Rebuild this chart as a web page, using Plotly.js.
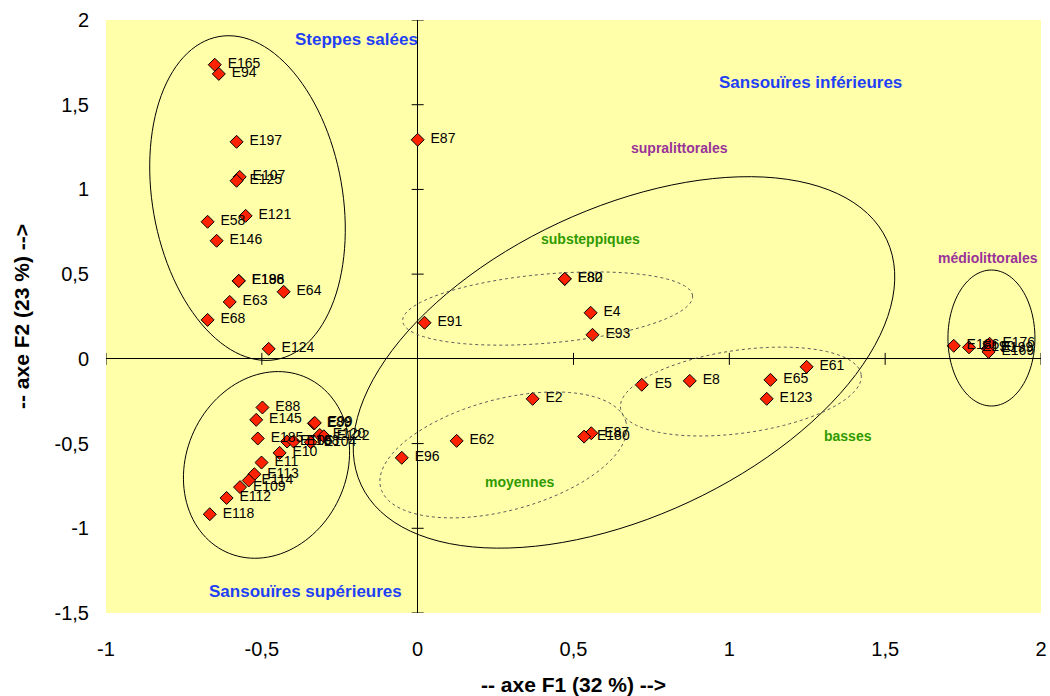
<!DOCTYPE html>
<html>
<head>
<meta charset="utf-8">
<script src="https://cdn.plot.ly/plotly-3.0.1.min.js"></script>
<style>html,body{margin:0;padding:0;background:#fff;}#chart{width:1050px;height:696px;}</style>
</head>
<body>
<div id="chart"></div>
<script>
// ---- data ----
const labels = ["E165","E94","E197","E107","E125","E121","E58","E146","E188","E196","E64","E63","E68","E124",
  "E87",
  "E88","E145","E185","E105","E108","E104","E10","E11","E113","E114","E109","E112","E118","E89","E99","E120","E122",
  "E91","E80","E82","E4","E93","E2","E5","E8","E65","E61","E123","E62","E96","E87","E180",
  "E186","E190","E199","E176","E169"];
const xVals = [-0.651,-0.638,-0.581,-0.571,-0.581,-0.552,-0.674,-0.645,-0.574,-0.574,-0.430,-0.603,-0.674,-0.478,
  0.000,
  -0.498,-0.518,-0.513,-0.419,-0.398,-0.343,-0.443,-0.501,-0.524,-0.542,-0.570,-0.613,-0.667,-0.333,-0.330,-0.314,-0.301,
  0.022,0.472,0.472,0.555,0.561,0.369,0.719,0.873,1.132,1.248,1.120,0.125,-0.051,0.557,0.534,
  1.720,1.769,1.829,1.835,1.832];
const yVals = [1.736,1.682,1.281,1.074,1.051,0.844,0.809,0.697,0.460,0.460,0.396,0.336,0.230,0.059,
  1.293,
  -0.287,-0.360,-0.470,-0.488,-0.488,-0.492,-0.555,-0.612,-0.681,-0.718,-0.757,-0.821,-0.917,-0.381,-0.378,-0.449,-0.457,
  0.213,0.472,0.472,0.272,0.142,-0.236,-0.153,-0.130,-0.124,-0.047,-0.236,-0.484,-0.584,-0.439,-0.459,
  0.077,0.068,0.059,0.089,0.041];

const xTickVals = [-1,-0.5,0,0.5,1,1.5,2];
const xTickText = ["-1","-0,5","0","0,5","1","1,5","2"];
const yTickVals = [-1.5,-1,-0.5,0,0.5,1,1.5,2];
const yTickText = ["-1,5","-1","-0,5","0","0,5","1","1,5","2"];

// group ellipses: center (data), semi-axes (px), angle (deg)
const ellCx =   [-0.546,-0.485, 0.662, 0.417, 0.275, 1.037, 1.841];
const ellCy =   [ 0.949,-0.626,-0.021, 0.297,-0.567,-0.193, 0.123];
const ellA =    [ 164,   96,    290,   145.5, 127,   121.5,  43.5];
const ellB =    [ 95,    80,    154,   34.5,  55.6,  41.5,   68];
const ellAng =  [ 100,   65,    25,    5,     15,    8,      0];
const ellDotted=[ false, false, false, true,  true,  true,   false];

const zoneNames = ["Steppes salées","Sansouïres inférieures","Sansouïres supérieures",
  "supralittorales","médiolittorales","substeppiques","moyennes","basses"];
const zoneX = [-0.195,1.259,-0.361,0.839,1.830,0.556,0.328,1.381];
const zoneY = [1.882,1.634,-1.376,1.244,0.595,0.707,-0.727,-0.455];
const zoneKind = ["main","main","main","sub","sub","fine","fine","fine"];

// ---- layout geometry ----
const W = 1050, H = 696, mL = 106, mR = 9, mT = 20, mB = 83;
const xRange = [-1, 2], yRange = [-1.5, 2];
const kx = (W - mL - mR) / (xRange[1] - xRange[0]);
const ky = (H - mT - mB) / (yRange[1] - yRange[0]);

function ellipsePath(cx, cy, a, b, angDeg) {
  const th = angDeg * Math.PI / 180;
  let p = "";
  const N = 120;
  for (let i = 0; i <= N; i++) {
    const t = 2 * Math.PI * i / N;
    const dx = a * Math.cos(t) * Math.cos(th) - b * Math.sin(t) * Math.sin(th);
    const dy = a * Math.cos(t) * Math.sin(th) + b * Math.sin(t) * Math.cos(th);
    const x = cx + dx / kx, y = cy + dy / ky;
    p += (i === 0 ? "M" : "L") + x.toFixed(5) + "," + y.toFixed(5);
  }
  return p + "Z";
}

const shapes = [];
for (let i = 0; i < ellCx.length; i++) {
  shapes.push({type: "path", xref: "x", yref: "y", path: ellipsePath(ellCx[i], ellCy[i], ellA[i], ellB[i], ellAng[i]),
    line: ellDotted[i] ? {color: "#5a5a5a", width: 1, dash: "dot"} : {color: "#000", width: 1}, layer: "above"});
}
// tick marks crossing the zero axes
const tl = 6;
xTickVals.forEach(v => { if (v !== 0) shapes.push({type: "line", xref: "x", yref: "y", x0: v, x1: v, y0: -tl/ky, y1: tl/ky, line: {color: "#000", width: 1}}); });
yTickVals.forEach(v => { if (v !== 0) shapes.push({type: "line", xref: "x", yref: "y", y0: v, y1: v, x0: -tl/kx, x1: tl/kx, line: {color: "#000", width: 1}}); });

const zoneStyle = {
  main: {size: 17, color: "#1f3ff5"},
  sub: {size: 14, color: "#993399"},
  fine: {size: 14, color: "#2f9a00"}
};
const annotations = zoneNames.map((t, i) => ({
  x: zoneX[i], y: zoneY[i], xref: "x", yref: "y", text: "<b>" + t + "</b>", showarrow: false,
  font: {family: "Liberation Sans, Arial, sans-serif", size: zoneStyle[zoneKind[i]].size, color: zoneStyle[zoneKind[i]].color}
}));

const markerTrace = {
  type: "scatter", mode: "markers", x: xVals, y: yVals, text: labels,
  marker: {symbol: "diamond", size: 10, color: "#ff2200", line: {color: "#000", width: 1}},
  hoverinfo: "x+y+text", cliponaxis: false
};
const labelTrace = {
  type: "scatter", mode: "markers+text", x: xVals, y: yVals, text: labels,
  textposition: "middle right",
  textfont: {family: "Liberation Sans, Arial, sans-serif", size: 14, color: "#000"},
  marker: {size: 19, opacity: 0},
  hoverinfo: "skip", cliponaxis: false
};

const layout = {
  width: W, height: H,
  margin: {l: mL, r: mR, t: mT, b: mB, pad: 0},
  paper_bgcolor: "#ffffff",
  plot_bgcolor: "#ffffaa",
  showlegend: false,
  font: {family: "Liberation Sans, Arial, sans-serif", color: "#000"},
  xaxis: {
    range: xRange, tickvals: xTickVals, ticktext: xTickText, ticks: "", showgrid: false,
    zeroline: true, zerolinecolor: "#000", zerolinewidth: 1, showline: false,
    tickfont: {size: 20, color: "#000"}, ticklabelstandoff: 22, automargin: false,
    title: {text: "<b>-- axe F1 (32 %) --></b>", font: {size: 21, color: "#000"}, standoff: 19}
  },
  yaxis: {
    range: yRange, tickvals: yTickVals, ticktext: yTickText, ticks: "", showgrid: false,
    zeroline: true, zerolinecolor: "#000", zerolinewidth: 1, showline: false,
    tickfont: {size: 20, color: "#000"}, ticklabelstandoff: 16, automargin: false,
    title: {text: "<b>-- axe F2 (23 %) --></b>", font: {size: 21, color: "#000"}, standoff: 19}
  },
  shapes: shapes,
  annotations: annotations
};

Plotly.newPlot("chart", [markerTrace, labelTrace], layout, {displayModeBar: false, staticPlot: true});
</script>
</body>
</html>
